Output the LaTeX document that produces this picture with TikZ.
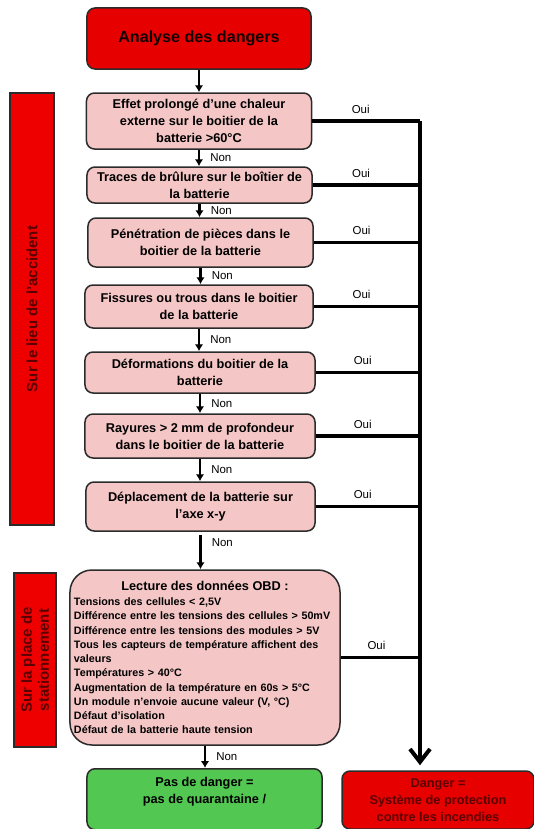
\documentclass[tikz,border=0pt]{standalone}
\usepackage{fontspec}
\setmainfont{Liberation Sans}
\usetikzlibrary{arrows.meta,positioning}
\definecolor{alertRed}{HTML}{E60000}
\definecolor{barRed}{HTML}{EE0000}
\definecolor{checkPink}{HTML}{F4C6C6}
\definecolor{safeGreen}{HTML}{52C852}
\definecolor{edgeGray}{HTML}{2B2B2B}
\definecolor{darkRed}{HTML}{5A0000}
\tikzset{>=stealth,
  qbox/.style={draw=edgeGray, line width=1.5bp, rounded corners=8bp, fill=checkPink,
    minimum width=225bp, align=center, inner sep=2bp,
    font=\bfseries\fontsize{12.8}{17}\selectfont},
  redbox/.style={qbox, fill=alertRed, text=darkRed},
  sidebar/.style={draw=edgeGray, line width=1.2bp, fill=barRed, text=darkRed, rotate=90,
    align=center, inner sep=0pt, font=\bfseries\fontsize{15}{17}\selectfont},
  nonarrow/.style={line width=2.6bp, -{Latex[length=7bp,width=8.5bp]}},
  ouiline/.style={line width=3.5bp},
  lab/.style={font=\fontsize{11.5}{13}\selectfont, inner sep=1bp}
}
\begin{document}
\begin{tikzpicture}[x=1bp,y=-1bp]
\useasboundingbox (0,0) rectangle (534,829);
% side bars
\node[sidebar, minimum width=432bp, minimum height=44bp] (lieu) at (32,309) {Sur le lieu de l'accident};
\node[sidebar, minimum width=174bp, minimum height=42bp] (place) at (35,660) {Sur la place de\\stationnement};
% checks
\node[redbox, minimum width=224bp, minimum height=61bp, font=\bfseries\fontsize{16.2}{19}\selectfont, text=black!80!darkRed] (start) at (199,38.5) {Analyse des dangers};
\node[qbox, minimum height=56bp] (q1) at (199,121) {Effet prolongé d’une chaleur\\externe sur le boitier de la\\batterie >60°C};
\node[qbox, minimum height=36bp] (q2) at (199.5,185) {Traces de brûlure sur le boîtier de\\la batterie};
\node[qbox, minimum height=49bp] (q3) at (200.5,242.5) {Pénétration de pièces dans le\\boitier de la batterie};
\node[qbox, minimum height=43bp, minimum width=228bp] (q4) at (199,306.5) {Fissures ou trous dans le boitier\\de la batterie};
\node[qbox, minimum height=41bp, minimum width=230bp] (q5) at (200,372.5) {Déformations du boitier de la\\batterie};
\node[qbox, minimum height=44bp, minimum width=230bp] (q6) at (200,436) {Rayures > 2 mm de profondeur\\dans le boitier de la batterie};
\node[qbox, minimum height=49bp, minimum width=229bp] (q7) at (200.5,506.5) {Déplacement de la batterie sur\\l’axe x-y};
\node[qbox, rounded corners=22bp, minimum width=270bp, minimum height=175bp, text width=262bp, align=left,
  font=\bfseries\fontsize{10.8}{14.3}\selectfont] (obd) at (205,657.5)
  {\makebox[262bp]{\fontsize{12.8}{15}\selectfont Lecture des données OBD :}\\[1bp]
   Tensions des cellules < 2,5V\\
   Différence entre les tensions des cellules > 50mV\\
   Différence entre les tensions des modules > 5V\\
   Tous les capteurs de température affichent des\\
   valeurs\\
   Températures > 40°C\\
   Augmentation de la température en 60s > 5°C\\
   Un module n'envoie aucune valeur (V, °C)\\
   Défaut d'isolation\\
   Défaut de la batterie haute tension};
% results
\node[qbox, fill=safeGreen, minimum width=235bp, minimum height=61bp, anchor=north] (safe) at (204.5,768) {Pas de danger =\\pas de quarantaine /\\\mbox{}};
\node[redbox, minimum width=192bp, minimum height=58bp] (danger) at (438,800) {Danger =\\Système de protection\\contre les incendies};
% trunk on the right
\coordinate (trunk) at (420,121);
\draw[line width=4bp, -{Straight Barb[length=13bp,width=20bp]}, shorten >=5bp] (trunk) -- (trunk |- danger.north);
% oui branches
\foreach \q in {q1,q2,q3,q4,q5,q6,q7,obd}
  \draw[ouiline] (\q.east) -- (\q.east -| trunk) node[lab, pos=0.45, above=5bp] {Oui};
% non arrows
\draw[nonarrow] (start.south) -- (start.south |- q1.north);
\foreach \a/\b in {q1/q2,q2/q3,q3/q4,q4/q5,q5/q6,q6/q7}
  \draw[nonarrow] (\a.south) -- (\a.south |- \b.north) node[lab, midway, right=9bp] {Non};
\draw[nonarrow, shorten <=3bp] (q7.south) -- (q7.south |- obd.north) node[lab, pos=0.3, right=9bp] {Non};
\draw[nonarrow] (obd.south) -- (obd.south |- safe.north) node[lab, midway, right=9bp] {Non};
\end{tikzpicture}
\end{document}
